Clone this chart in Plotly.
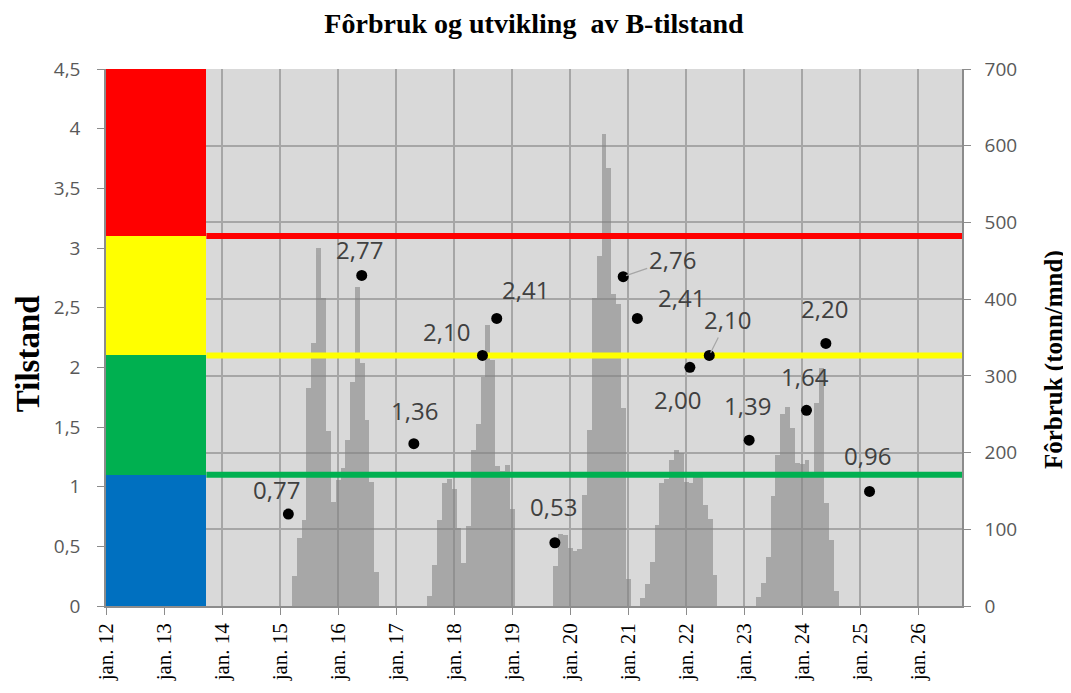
import pandas as pd
import plotly.graph_objects as go

# ---------------- data ----------------
# monthly feed use (tonn/mnd), one list per production cycle, starting month given
cycle_starts = ["2015-04-01", "2017-08-01", "2019-10-01", "2021-04-01", "2023-04-01"]
feed_2015 = [39, 89, 112, 284, 343, 467, 401, 228, 135, 164, 180, 216, 292, 416, 317, 243, 162, 44]
feed_2017 = [13, 53, 112, 160, 165, 153, 102, 56, 104, 203, 237, 299, 366, 321, 182, 176, 184, 127]
feed_2019 = [52, 94, 92, 75, 72, 74, 145, 229, 401, 456, 615, 571, 407, 394, 258, 35]
feed_2021 = [10, 29, 57, 105, 160, 165, 190, 204, 199, 162, 160, 175, 175, 132, 114, 40]
feed_2023 = [12, 30, 64, 143, 197, 250, 260, 232, 186, 185, 190, 172, 265, 310, 134, 86, 19]
feed_cycles = [feed_2015, feed_2017, feed_2019, feed_2021, feed_2023]

# B-survey condition (Tilstand)
point_dates = ["2015-02-22", "2016-05-29", "2017-04-22", "2018-06-28", "2018-09-26",
               "2019-09-27", "2020-11-30", "2021-02-27", "2022-01-24", "2022-05-26",
               "2023-02-01", "2024-01-28", "2024-05-29", "2025-02-28"]
point_values = [0.77, 2.77, 1.36, 2.10, 2.41, 0.53, 2.76, 2.41, 2.00, 2.10, 1.39, 1.64, 2.20, 0.96]

# condition class limits
band_bounds = [0, 1.1, 2.1, 3.1, 4.5]
band_colors = ["#0070C0", "#00B050", "#FFFF00", "#FF0000"]
band_end = "2013-09-24"
thresholds = [1.1, 2.1, 3.1]
threshold_colors = ["#00B050", "#FFFF00", "#FF0000"]

x_start, x_end = "2012-01-01", "2026-10-03"
tick_years = list(range(2012, 2027))
tick_labels = [f"jan. {y % 100}" for y in tick_years]

chart_title = "Fôrbruk og utvikling  av B-tilstand"
left_title = "Tilstand"
right_title = "Fôrbruk (tonn/mnd)"

# label placement (screen px offsets of text centre from the dot)
label_offsets = [(-12, -25), (-2, -26), (1, -33), (-36, -24), (29, -29), (-1, -36), (49, -17),
                 (44, -21), (-12, 32), (18, -36), (-2, -35), (-1, -34), (-1, -35), (-2, -36)]
leader_lines = [False, False, False, False, False, False, True, False, False, True, False, False, False, False]

# ---------------- build bars ----------------
months, feeds = [], []
for start, vals in zip(cycle_starts, feed_cycles):
    rng = pd.date_range(start, periods=len(vals), freq="MS")
    months.extend(rng)
    feeds.extend(vals)
months = pd.DatetimeIndex(months)
prev_m = months - pd.DateOffset(months=1)
next_m = months + pd.DateOffset(months=1)
left_edge = months - (months - prev_m) / 2
right_edge = months + (next_m - months) / 2
widths = [(r - l).total_seconds() * 1000 for l, r in zip(left_edge, right_edge)]
offsets = [(l - m).total_seconds() * 1000 for l, m in zip(left_edge, months)]

fig = go.Figure()

# feed bars on the right-hand axis (base axis "y")
fig.add_trace(go.Bar(
    x=months, y=feeds, yaxis="y", width=widths, offset=offsets,
    marker=dict(color="rgb(128,128,128)", line=dict(width=0)), opacity=0.55,
    showlegend=False, hoverinfo="x+y"))

# condition class bands (left axis "y2")
band_ms = (pd.Timestamp(band_end) - pd.Timestamp(x_start)).total_seconds() * 1000
for i, c in enumerate(band_colors):
    fig.add_trace(go.Bar(
        x=[x_start], y=[band_bounds[i + 1] - band_bounds[i]], base=[band_bounds[i]],
        width=[band_ms], offset=[0], yaxis="y2",
        marker=dict(color=c, line=dict(width=0)), showlegend=False, hoverinfo="skip"))

for t, c in zip(thresholds, threshold_colors):
    fig.add_trace(go.Scatter(
        x=[band_end, x_end], y=[t, t], yaxis="y2", mode="lines",
        line=dict(color=c, width=6), showlegend=False, hoverinfo="skip"))

fig.add_trace(go.Scatter(
    x=point_dates, y=point_values, yaxis="y2", mode="markers",
    marker=dict(color="black", size=11), showlegend=False))

annotations = []
for d, v, (dx, dy), lead in zip(point_dates, point_values, label_offsets, leader_lines):
    txt = f"{v:.2f}".replace(".", ",")
    if lead:
        annotations.append(dict(x=d, y=v, xref="x", yref="y2", text=txt, showarrow=True,
                                ax=dx, ay=dy, arrowhead=0, arrowwidth=1.2, arrowcolor="#A6A6A6",
                                standoff=3,
                                font=dict(family="Open Sans", size=24, color="#404040")))
    else:
        annotations.append(dict(x=d, y=v, xref="x", yref="y2", text=txt, showarrow=False,
                                xshift=dx, yshift=-dy,
                                font=dict(family="Open Sans", size=24, color="#404040")))

# axis titles
annotations.append(dict(text=left_title, xref="paper", yref="paper", x=0, y=0.469,
                        xshift=-78, xanchor="center", yanchor="middle", textangle=-90,
                        showarrow=False,
                        font=dict(family="Liberation Serif", size=33, color="black", weight="bold")))
annotations.append(dict(text=right_title, xref="paper", yref="paper", x=1, y=0.458,
                        xshift=92, xanchor="center", yanchor="middle", textangle=-90,
                        showarrow=False,
                        font=dict(family="Liberation Serif", size=25, color="black", weight="bold")))

axis_line = "#8C8C8C"
fig.update_layout(
    width=1063, height=685,
    margin=dict(l=98, r=109, t=61, b=87),
    paper_bgcolor="white", plot_bgcolor="#D9D9D9",
    separators=", ",
    barmode="overlay",
    bargap=0,
    title=dict(text=chart_title, x=0.5, xref="paper",
               y=1 - 5 / 685, yanchor="top", yref="container", pad=dict(t=0, b=0),
               font=dict(family="Liberation Serif", size=28, color="black", weight="bold")),
    xaxis=dict(type="date", range=[x_start, x_end],
               tickvals=[f"{y}-01-01" for y in tick_years], ticktext=tick_labels,
               tickangle=-90, ticks="outside", ticklen=7, tickcolor=axis_line,
               showgrid=True, gridcolor="#A6A6A6", gridwidth=1.5,
               showline=True, linecolor=axis_line, linewidth=1.5,
               tickfont=dict(family="Liberation Serif", size=21, color="black"),
               zeroline=False),
    yaxis=dict(range=[0, 700], dtick=100, side="right",
               showgrid=True, gridcolor="#A6A6A6", gridwidth=1.5,
               ticks="outside", ticklen=7, tickcolor=axis_line, ticklabelstandoff=10,
               showline=True, linecolor=axis_line, linewidth=1.5, zeroline=False,
               tickfont=dict(family="Open Sans", size=19, color="#595959")),
    yaxis2=dict(range=[0, 4.5], dtick=0.5, side="left", overlaying="y",
                showgrid=False, ticks="outside", ticklen=7, tickcolor=axis_line,
                ticklabelstandoff=13,
                showline=True, linecolor=axis_line, linewidth=1.5, zeroline=False,
                tickfont=dict(family="Open Sans", size=19, color="#595959")),
    annotations=annotations,
)

fig.write_html("out.html")
